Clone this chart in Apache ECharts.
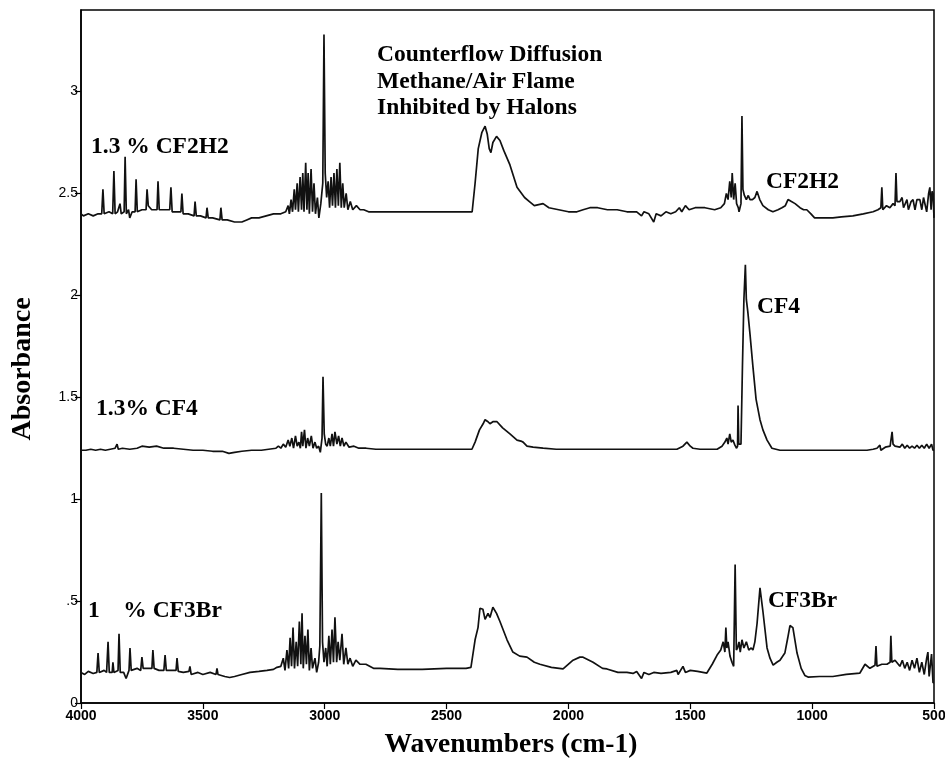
<!DOCTYPE html>
<html>
<head>
<meta charset="utf-8">
<script src="https://cdn.jsdelivr.net/npm/echarts@6/dist/echarts.min.js"></script>
<style>
html,body{margin:0;padding:0;background:#fff;}
#chart{width:945px;height:761px;}
</style>
</head>
<body>
<div id="chart"></div>
<script>
// ---- data (wavenumber cm-1, absorbance) ----
var xTicks = [4000, 3500, 3000, 2500, 2000, 1500, 1000, 500];
var xTickLabels = ['4000', '3500', '3000', '2500', '2000', '1500', '1000', '500'];
var yTicks = [0, 0.5, 1, 1.5, 2, 2.5, 3];
var yTickLabels = ['0', '.5', '1', '1.5', '2', '2.5', '3'];

var seriesNames = ['1.3 % CF2H2', '1.3% CF4', '1    % CF3Br'];

var cf2h2Spectrum = [
[4000,2.40],[3990,2.39],[3970,2.40],[3950,2.39],[3930,2.40],[3915,2.40],[3910,2.52],[3905,2.40],[3885,2.41],[3870,2.40],[3865,2.61],[3860,2.40],[3850,2.41],[3840,2.45],[3835,2.40],[3823,2.41],[3819,2.68],[3814,2.40],[3805,2.42],[3800,2.38],[3790,2.41],[3778,2.41],[3774,2.57],[3769,2.41],[3750,2.42],[3733,2.42],[3729,2.52],[3724,2.44],[3710,2.42],[3688,2.42],[3684,2.56],[3679,2.42],[3660,2.42],[3636,2.42],[3631,2.53],[3626,2.41],[3605,2.41],[3590,2.41],[3586,2.50],[3581,2.40],[3560,2.40],[3536,2.39],[3532,2.46],[3527,2.39],[3510,2.39],[3487,2.38],[3483,2.43],[3478,2.38],[3460,2.38],[3430,2.37],[3426,2.43],[3421,2.37],[3400,2.37],[3370,2.36],[3340,2.36],[3320,2.37],[3300,2.38],[3270,2.38],[3240,2.39],[3210,2.40],[3180,2.40],[3160,2.41],[3150,2.44],[3145,2.40],[3138,2.47],[3132,2.41],[3125,2.52],[3120,2.42],[3113,2.55],[3108,2.41],[3101,2.58],[3095,2.42],[3090,2.60],[3085,2.41],[3078,2.65],[3073,2.42],[3068,2.60],[3063,2.40],[3056,2.62],[3050,2.41],[3044,2.55],[3038,2.40],[3030,2.48],[3024,2.38],[3016,2.45],[3008,2.55],[3003,3.28],[2998,2.60],[2992,2.48],[2986,2.56],[2980,2.43],[2974,2.58],[2968,2.44],[2962,2.60],[2956,2.43],[2950,2.62],[2944,2.44],[2938,2.65],[2932,2.43],[2926,2.55],[2920,2.43],[2912,2.50],[2905,2.42],[2895,2.46],[2885,2.42],[2870,2.44],[2855,2.42],[2840,2.42],[2820,2.41],[2780,2.41],[2700,2.41],[2600,2.41],[2500,2.41],[2420,2.41],[2395,2.41],[2383,2.55],[2370,2.72],[2355,2.80],[2342,2.83],[2333,2.79],[2325,2.72],[2318,2.70],[2310,2.75],[2295,2.78],[2281,2.76],[2265,2.71],[2240,2.64],[2211,2.53],[2180,2.48],[2160,2.46],[2140,2.44],[2104,2.45],[2080,2.43],[2040,2.42],[2000,2.41],[1965,2.41],[1940,2.42],[1912,2.43],[1880,2.43],[1840,2.42],[1800,2.42],[1760,2.41],[1720,2.41],[1700,2.39],[1690,2.41],[1670,2.40],[1650,2.36],[1640,2.40],[1620,2.39],[1600,2.41],[1580,2.40],[1560,2.41],[1545,2.43],[1535,2.41],[1520,2.44],[1505,2.42],[1480,2.43],[1440,2.43],[1400,2.42],[1375,2.43],[1360,2.45],[1352,2.50],[1345,2.47],[1338,2.56],[1332,2.48],[1328,2.60],[1322,2.47],[1316,2.55],[1310,2.45],[1303,2.43],[1300,2.41],[1292,2.45],[1288,2.88],[1284,2.52],[1278,2.49],[1270,2.47],[1262,2.49],[1255,2.47],[1245,2.47],[1235,2.48],[1226,2.51],[1215,2.47],[1202,2.44],[1180,2.42],[1161,2.41],[1140,2.42],[1124,2.43],[1110,2.44],[1099,2.47],[1085,2.46],[1070,2.45],[1050,2.43],[1035,2.42],[1022,2.42],[1015,2.425],[1005,2.40],[990,2.38],[968,2.38],[940,2.38],[915,2.38],[880,2.385],[833,2.39],[790,2.40],[750,2.41],[730,2.42],[718,2.43],[714,2.53],[710,2.42],[695,2.44],[681,2.43],[668,2.45],[660,2.44],[656,2.60],[652,2.46],[640,2.46],[631,2.48],[625,2.43],[611,2.47],[605,2.42],[594,2.46],[586,2.47],[578,2.42],[570,2.47],[558,2.47],[550,2.42],[543,2.48],[537,2.48],[530,2.41],[522,2.50],[517,2.53],[512,2.42],[508,2.51],[504,2.50],[500,2.38]
];

var cf4Spectrum = [
[4000,1.24],[3980,1.24],[3960,1.245],[3940,1.24],[3920,1.245],[3900,1.24],[3880,1.245],[3860,1.25],[3852,1.27],[3847,1.245],[3830,1.25],[3800,1.245],[3770,1.25],[3750,1.26],[3720,1.255],[3690,1.26],[3660,1.25],[3620,1.25],[3580,1.245],[3540,1.24],[3500,1.24],[3460,1.235],[3420,1.235],[3393,1.225],[3370,1.23],[3340,1.235],[3300,1.24],[3260,1.24],[3230,1.245],[3200,1.25],[3190,1.26],[3180,1.25],[3170,1.27],[3160,1.255],[3150,1.29],[3143,1.26],[3135,1.30],[3128,1.25],[3120,1.31],[3113,1.26],[3106,1.28],[3100,1.25],[3095,1.33],[3090,1.26],[3083,1.34],[3077,1.25],[3070,1.30],[3063,1.26],[3055,1.31],[3048,1.25],[3040,1.28],[3033,1.25],[3025,1.26],[3018,1.23],[3011,1.30],[3007,1.60],[3002,1.32],[2996,1.27],[2990,1.26],[2983,1.30],[2977,1.26],[2970,1.32],[2964,1.26],[2958,1.33],[2950,1.27],[2943,1.31],[2936,1.26],[2929,1.30],[2921,1.26],[2913,1.28],[2900,1.255],[2880,1.26],[2860,1.25],[2830,1.25],[2790,1.245],[2700,1.245],[2600,1.245],[2500,1.245],[2420,1.245],[2396,1.245],[2383,1.28],[2365,1.34],[2350,1.37],[2342,1.39],[2330,1.38],[2322,1.37],[2310,1.38],[2293,1.38],[2270,1.35],[2240,1.32],[2211,1.29],[2195,1.285],[2186,1.28],[2170,1.26],[2145,1.255],[2104,1.25],[2050,1.245],[1953,1.245],[1817,1.245],[1700,1.245],[1600,1.245],[1555,1.245],[1530,1.26],[1514,1.28],[1500,1.26],[1489,1.25],[1460,1.245],[1430,1.245],[1390,1.245],[1370,1.26],[1358,1.28],[1350,1.30],[1345,1.27],[1338,1.32],[1332,1.28],[1325,1.29],[1317,1.265],[1310,1.25],[1306,1.26],[1304,1.46],[1301,1.27],[1292,1.27],[1286,1.65],[1280,1.98],[1274,2.15],[1270,1.98],[1264,1.92],[1255,1.81],[1243,1.65],[1230,1.49],[1214,1.39],[1202,1.34],[1185,1.29],[1165,1.25],[1132,1.24],[1050,1.24],[950,1.24],[850,1.24],[775,1.24],[750,1.245],[734,1.25],[722,1.265],[718,1.24],[700,1.255],[680,1.26],[672,1.33],[668,1.27],[660,1.26],[640,1.255],[630,1.27],[620,1.25],[610,1.265],[600,1.25],[590,1.26],[580,1.25],[570,1.265],[560,1.25],[550,1.265],[540,1.25],[530,1.27],[520,1.25],[510,1.27],[504,1.24],[500,1.24]
];

var cf3brSpectrum = [
[4000,0.15],[3985,0.14],[3970,0.155],[3950,0.145],[3935,0.15],[3930,0.245],[3925,0.15],[3905,0.16],[3895,0.15],[3889,0.30],[3884,0.15],[3872,0.15],[3869,0.20],[3865,0.15],[3848,0.16],[3844,0.34],[3839,0.15],[3825,0.15],[3815,0.12],[3803,0.16],[3799,0.27],[3794,0.16],[3770,0.17],[3755,0.16],[3750,0.225],[3745,0.17],[3725,0.17],[3709,0.17],[3705,0.26],[3700,0.17],[3680,0.16],[3660,0.16],[3655,0.235],[3650,0.16],[3630,0.16],[3610,0.16],[3606,0.22],[3601,0.155],[3580,0.15],[3557,0.155],[3553,0.18],[3548,0.14],[3520,0.15],[3500,0.14],[3470,0.15],[3446,0.14],[3442,0.17],[3438,0.14],[3410,0.13],[3390,0.125],[3370,0.13],[3340,0.14],[3307,0.15],[3270,0.155],[3237,0.16],[3210,0.165],[3196,0.175],[3180,0.18],[3170,0.22],[3163,0.16],[3155,0.26],[3148,0.17],[3142,0.32],[3136,0.18],[3130,0.37],[3124,0.17],[3117,0.30],[3111,0.18],[3104,0.40],[3098,0.19],[3093,0.44],[3088,0.17],[3081,0.33],[3075,0.19],[3069,0.36],[3063,0.16],[3056,0.27],[3050,0.17],[3040,0.22],[3033,0.15],[3025,0.20],[3020,0.28],[3014,1.03],[3009,0.30],[3003,0.20],[2996,0.27],[2990,0.18],[2983,0.33],[2977,0.19],[2970,0.36],[2964,0.20],[2958,0.42],[2951,0.20],[2945,0.30],[2938,0.21],[2929,0.34],[2922,0.19],[2913,0.27],[2905,0.19],[2896,0.22],[2885,0.18],[2872,0.21],[2855,0.19],[2831,0.19],[2800,0.17],[2773,0.17],[2700,0.165],[2600,0.165],[2500,0.17],[2420,0.17],[2400,0.175],[2383,0.31],[2371,0.37],[2363,0.465],[2351,0.46],[2342,0.41],[2330,0.44],[2322,0.42],[2310,0.47],[2295,0.44],[2281,0.40],[2252,0.31],[2228,0.25],[2200,0.23],[2170,0.225],[2140,0.20],[2117,0.19],[2070,0.175],[2022,0.167],[1981,0.21],[1953,0.225],[1940,0.225],[1899,0.20],[1860,0.17],[1842,0.167],[1797,0.15],[1760,0.15],[1735,0.145],[1720,0.155],[1700,0.12],[1690,0.15],[1670,0.14],[1650,0.15],[1620,0.145],[1580,0.15],[1555,0.16],[1550,0.14],[1530,0.18],[1520,0.15],[1500,0.16],[1470,0.155],[1432,0.147],[1410,0.19],[1390,0.235],[1375,0.26],[1365,0.30],[1358,0.25],[1354,0.37],[1350,0.27],[1345,0.30],[1337,0.23],[1329,0.20],[1322,0.18],[1316,0.68],[1311,0.26],[1306,0.27],[1300,0.30],[1295,0.25],[1288,0.31],[1280,0.27],[1270,0.30],[1260,0.26],[1250,0.27],[1243,0.26],[1235,0.30],[1226,0.39],[1214,0.565],[1202,0.45],[1185,0.27],[1173,0.22],[1160,0.186],[1145,0.20],[1132,0.21],[1112,0.245],[1100,0.32],[1091,0.38],[1079,0.37],[1062,0.245],[1045,0.17],[1030,0.135],[1017,0.127],[970,0.13],[915,0.13],[860,0.14],[804,0.147],[783,0.19],[775,0.185],[763,0.17],[742,0.185],[738,0.28],[734,0.18],[714,0.19],[693,0.19],[680,0.20],[677,0.33],[673,0.20],[660,0.21],[640,0.18],[630,0.21],[620,0.17],[610,0.20],[600,0.16],[590,0.21],[580,0.17],[570,0.22],[560,0.15],[550,0.20],[540,0.14],[530,0.22],[525,0.25],[520,0.13],[510,0.24],[504,0.10],[500,0.10]
];

var titleLines = ['Counterflow Diffusion', 'Methane/Air Flame', 'Inhibited by Halons'];
var peakLabels = ['CF2H2', 'CF4', 'CF3Br'];

// ---- chart ----
var chart = echarts.init(document.getElementById('chart'), null, {renderer: 'canvas'});
var SERIF = '"Liberation Serif", "Times New Roman", serif';
var labelFont = 'bold 23.5px ' + SERIF;

function lineSeries(name, data) {
  return {
    name: name,
    type: 'line',
    data: data,
    showSymbol: false,
    symbol: 'none',
    silent: true,
    lineStyle: {color: '#111', width: 1.7},
    animation: false
  };
}

var graphics = [];
function txt(x, y, text, font, align) {
  graphics.push({
    type: 'text', x: x, y: y, silent: true,
    style: {text: text, font: font, fill: '#000', align: align || 'left', verticalAlign: 'middle'}
  });
}
// series labels
txt(91, 147, seriesNames[0], labelFont);
txt(96, 409, seriesNames[1], labelFont);
txt(88, 611, seriesNames[2], labelFont);
// title block
txt(377, 55, titleLines[0], labelFont);
txt(377, 82, titleLines[1], labelFont);
txt(377, 108, titleLines[2], labelFont);
// peak labels
txt(766, 182, peakLabels[0], labelFont);
txt(757, 307, peakLabels[1], labelFont);
txt(768, 601, peakLabels[2], labelFont);
// axis titles
txt(511, 745, 'Wavenumbers (cm-1)', 'bold 27.5px ' + SERIF, 'center');
graphics.push({
  type: 'text', x: 23, y: 369, rotation: Math.PI / 2, silent: true,
  style: {text: 'Absorbance', font: 'bold 28px ' + SERIF, fill: '#000', align: 'center', verticalAlign: 'middle'}
});

var option = {
  backgroundColor: '#fff',
  animation: false,
  grid: {
    left: 81, right: 11, top: 10, bottom: 58,
    show: true, borderColor: '#000', borderWidth: 1.5, backgroundColor: 'transparent',
    containLabel: false, outerBoundsMode: 'none'
  },
  xAxis: {
    type: 'value', inverse: true, min: 500, max: 4000,
    axisLine: {show: true, onZero: false, lineStyle: {color: '#000', width: 1.5}},
    axisTick: {show: true, length: 6, inside: false, customValues: xTicks, lineStyle: {color: '#000', width: 1.2}},
    axisLabel: {
      show: true, customValues: xTicks, margin: 6, color: '#000',
      fontFamily: '"Liberation Sans", Arial, sans-serif', fontSize: 14, fontWeight: 'bold',
      formatter: function (v) { var i = xTicks.indexOf(v); return i >= 0 ? xTickLabels[i] : ''; }
    },
    splitLine: {show: false}
  },
  yAxis: {
    type: 'value', min: 0, max: 3.4,
    axisLine: {show: true, onZero: false, lineStyle: {color: '#000', width: 1.5}},
    axisTick: {show: true, length: 6, inside: false, customValues: yTicks, lineStyle: {color: '#000', width: 1.2}},
    axisLabel: {
      show: true, customValues: yTicks, margin: 3, color: '#000',
      fontFamily: '"Liberation Sans", Arial, sans-serif', fontSize: 14,
      formatter: function (v) { var i = yTicks.indexOf(v); return i >= 0 ? yTickLabels[i] : ''; }
    },
    splitLine: {show: false}
  },
  series: [
    lineSeries(seriesNames[0], cf2h2Spectrum),
    lineSeries(seriesNames[1], cf4Spectrum),
    lineSeries(seriesNames[2], cf3brSpectrum)
  ],
  graphic: graphics
};
chart.setOption(option);
</script>
</body>
</html>
